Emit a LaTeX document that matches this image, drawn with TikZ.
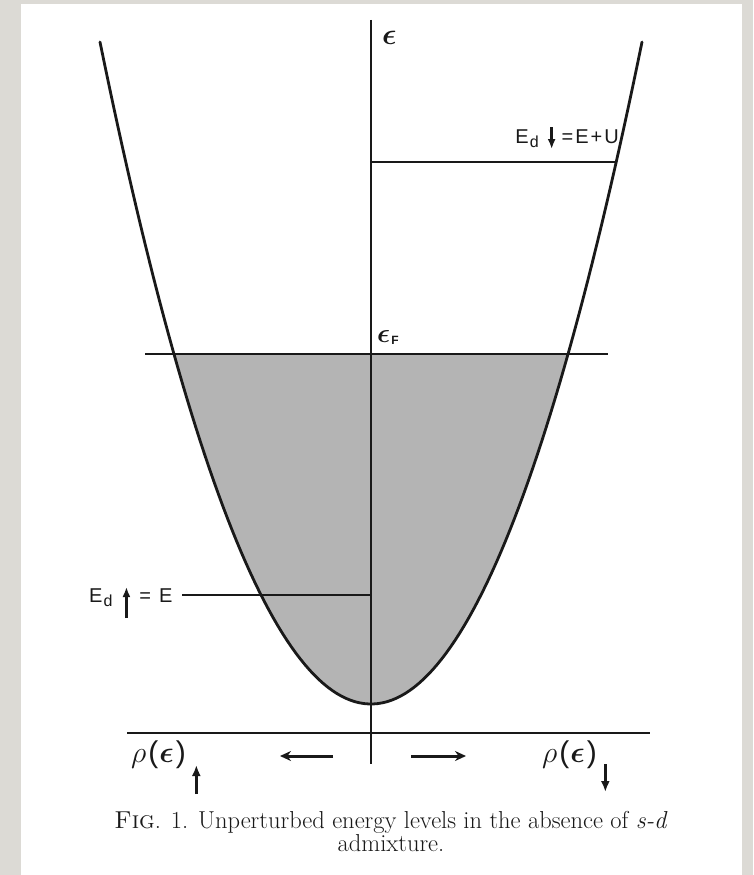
\RequirePackage{fix-cm}
\documentclass[tikz,border=0pt]{standalone}
\usepackage{fontspec}
\usepackage{amsmath,amssymb,bm}
\newfontfamily\labfont{Liberation Sans}
\usetikzlibrary{arrows.meta}
\definecolor{pagebg}{RGB}{220,218,213}
\definecolor{ink}{RGB}{25,25,25}
\definecolor{shadefill}{RGB}{180,180,180}
\tikzset{
  level/.style={draw=ink, line width=1.3pt},
  curve/.style={draw=ink, line width=2.8pt, line cap=round},
  lab/.style={text=ink, inner sep=0pt, font=\labfont\fontsize{20}{20}\selectfont},
  flow/.style={draw=ink, line width=3pt, -{Stealth[length=11pt,width=10pt]}},
  subarrow/.style={draw=ink, line width=2.4pt, -{Latex[length=10pt,width=8pt]}},
  bigsubarrow/.style={draw=ink, line width=3.2pt, -{Latex[length=11pt,width=9pt]}},
}
\newcommand{\vup}[3][subarrow]{\tikz[baseline=0pt,x=1pt,y=1pt]\draw[#1] (0,#2) -- (0,#3);}
\newcommand{\vdn}[3][subarrow]{\tikz[baseline=0pt,x=1pt,y=1pt]\draw[#1] (0,#3) -- (0,#2);}
\begin{document}
\begin{tikzpicture}[x=1pt,y=-1pt]
\useasboundingbox (0,0) rectangle (753,875);
\fill[pagebg] (0,0) rectangle (753,875);
\fill[white] (21,4) rectangle (742,875);
% shaded filled states
\fill[shadefill] plot[domain=-19.705:19.705, samples=80] ({371+10*\x},{704-0.9014*\x*\x}) -- cycle;
% coordinates
\coordinate (axtop) at (371,20);
\coordinate (axbot) at (371,764);
\coordinate (fl) at (145,354);
\coordinate (fr) at (608,354);
\coordinate (dnl) at (371,162);
\coordinate (dnr) at (616,162);
\coordinate (upl) at (182,595);
\coordinate (upr) at (371,595);
\coordinate (bl) at (127,733);
\coordinate (br) at (650,733);
\coordinate (la1) at (333,756);
\coordinate (la2) at (280,756);
\coordinate (ra1) at (411,756);
\coordinate (ra2) at (466,756);
% lines
\draw[level] (axtop) -- (axbot);
\draw[level] (fl) -- (fr);
\draw[level] (dnl) -- (dnr);
\draw[level] (upl) -- (upr);
\draw[level] (bl) -- (br);
% parabola
\draw[curve] plot[domain=-27.1:27.1, samples=120] ({371+10*\x},{704-0.9014*\x*\x});
% arrows
\draw[flow] (la1) -- (la2);
\draw[flow] (ra1) -- (ra2);
% labels
\node[lab, anchor=base west] (eps) at (382,45) {\fontsize{30}{30}\selectfont$\bm{\epsilon}$};
\node[lab, anchor=base west] (epsF) at (377,342) {\fontsize{27}{27}\selectfont$\bm{\epsilon}$\hspace{1pt}\raisebox{-2pt}{\fontsize{12}{12}\selectfont\bfseries F}};
\node[lab, anchor=base east] (Edn) at (619,143) {E\hspace{1pt}\raisebox{-4pt}{\fontsize{16}{16}\selectfont d}\hspace{9pt}\vdn{-6}{16}\hspace{6pt}=\hspace{2pt}E\hspace{2pt}+\hspace{2pt}U};
\node[lab, anchor=base west] (Eup) at (89,602) {E\hspace{1pt}\raisebox{-4pt}{\fontsize{16}{16}\selectfont d}\hspace{10pt}\vup{-16}{15}\hspace{9pt}=\hspace{8pt}E};
\node[lab, anchor=base west] (rhoup) at (131,762) {\fontsize{30}{30}\selectfont$\rho$\hspace{2pt}\labfont(\hspace{1pt}$\bm\epsilon$\hspace{2pt})\hspace{6pt}\vup[bigsubarrow]{-32}{-3}};
\node[lab, anchor=base west] (rhodn) at (542,762) {\fontsize{30}{30}\selectfont$\rho$\hspace{2pt}\labfont(\hspace{1pt}$\bm\epsilon$\hspace{2pt})\hspace{4pt}\vdn[bigsubarrow]{-30}{-2}};
\node[text=ink, align=center, inner sep=0pt, font=\fontsize{24.5}{20}\selectfont\addfontfeature{FakeBold=0.6}] (cap) at (391,831)
  {\textsc{Fig}. 1. Unperturbed energy levels in the absence of \textit{s-d}\\admixture.};
\end{tikzpicture}
\end{document}
